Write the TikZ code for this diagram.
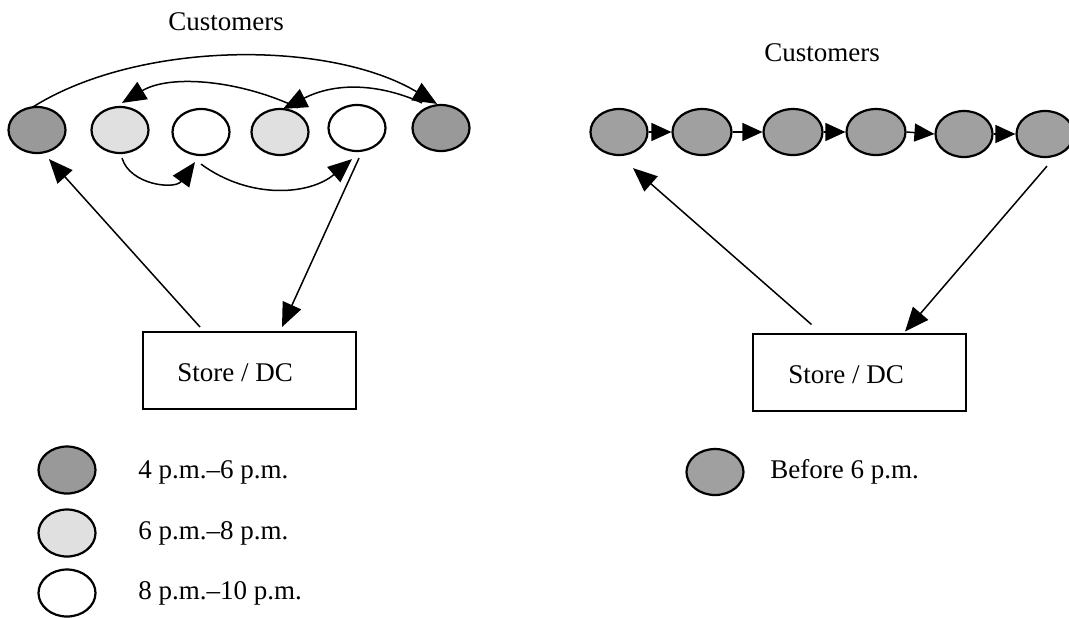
\documentclass[tikz,border=0pt]{standalone}
\usepackage{fontspec}
\setmainfont{Liberation Serif}
\usetikzlibrary{arrows.meta,calc,shapes.geometric}
\definecolor{early}{HTML}{999999}
\definecolor{mid}{HTML}{E0E0E0}
\definecolor{chain}{HTML}{A0A0A0}
\begin{document}
\begin{tikzpicture}[x=0.5pt,y=-0.5pt,
  cust/.style={ellipse,draw=black,line width=1.1pt,inner sep=0pt,
    minimum width=28.5pt,minimum height=23pt},
  depot/.style={rectangle,draw=black,line width=1pt,inner sep=0pt,
    minimum width=106.5pt,minimum height=38.5pt},
  lbl/.style={font=\fontsize{13.5}{16}\selectfont,inner sep=0pt},
  route/.style={line width=0.75pt,-{Triangle[length=12pt,width=10pt]}},
  hop/.style={line width=0.75pt,-{Triangle[length=10pt,width=9pt]}}]
\useasboundingbox (0,0) rectangle (1069,617);

% ---- evening deliveries (left) ----
\node[lbl] (tl) at (226,22) {Customers};
\node[cust,fill=early] (e1) at (37,130) {};
\node[cust,fill=mid]   (e2) at (120,130) {};
\node[cust,fill=white] (e3) at (201,132) {};
\node[cust,fill=mid]   (e4) at (280,132) {};
\node[cust,fill=white] (e5) at (357,128) {};
\node[cust,fill=early] (e6) at (441,128) {};
\node[depot] (lbox) at (249.5,370.5) {};
\node[lbl,anchor=west] (ltxt) at ($(lbox.west)+(35,2)$) {Store / DC};

\draw[route] ($(lbox.north)+(-49.5,-4)$) -- ($(e1.south)+(12,5)$);
\draw[route] ($(e1.north)+(-4,1)$) .. controls (140,40) and (330,40) .. ($(e6.north)+(-4,0)$);
\draw[route] ($(e6.north)+(-19,-1)$) .. controls (385,86) and (340,80) .. ($(e4.north)+(3,1)$);
\draw[route] ($(e4.north)+(18,0)$) .. controls (240,80) and (170,74) .. ($(e2.north)+(2,-3)$);
\draw[route] ($(e2.south)+(2,4)$) .. controls (130,185) and (175,190) .. ($(e3.south)+(-6,6)$);
\draw[route] ($(e3.south)+(0,8)$) .. controls (250,200) and (310,195) .. ($(e5.south)+(-5,7)$);
\draw[route] ($(e5.south)+(2,6)$) -- ($(lbox.north)+(32.5,-4)$);

% legend
\node[cust,fill=early,minimum height=23.5pt] (k1) at (67,470) {};
\node[cust,fill=mid,minimum height=23.5pt]   (k2) at (67,533) {};
\node[cust,fill=white,minimum height=23.5pt] (k3) at (67,593) {};
\node[lbl,anchor=west] (t1) at (138,472) {4 p.m.–6 p.m.};
\node[lbl,anchor=west] (t2) at (138,533) {6 p.m.–8 p.m.};
\node[lbl,anchor=west] (t3) at (138,593) {8 p.m.–10 p.m.};

% ---- afternoon deliveries (right) ----
\node[lbl] (tr) at (822,53) {Customers};
\node[cust,fill=chain] (r1) at (619,132) {};
\node[cust,fill=chain,minimum width=29.5pt] (r2) at (702,132) {};
\node[cust,fill=chain,minimum width=29.5pt] (r3) at (793,132) {};
\node[cust,fill=chain,minimum width=29.5pt] (r4) at (876,132) {};
\node[cust,fill=chain] (r5) at (964,134) {};
\node[cust,fill=chain] (r6) at (1045,134) {};
\foreach \a/\b in {r1/r2,r2/r3,r3/r4,r4/r5,r5/r6}
  \draw[hop] (\a.east) -- (\b.west);
\node[depot] (rbox) at (859.5,372) {};
\node[lbl,anchor=west] (rtxt) at ($(rbox.west)+(36,3)$) {Store / DC};

\draw[route] ($(rbox.north)+(-48,-8)$) -- ($(r1.south)+(14,12)$);
\draw[route] ($(r6.south)+(2,8)$) -- ($(rbox.north)+(45.5,-1)$);

% legend
\node[cust,fill=chain] (k4) at (715,472) {};
\node[lbl,anchor=west] (t4) at (770,472) {Before 6 p.m.};
\end{tikzpicture}
\end{document}
